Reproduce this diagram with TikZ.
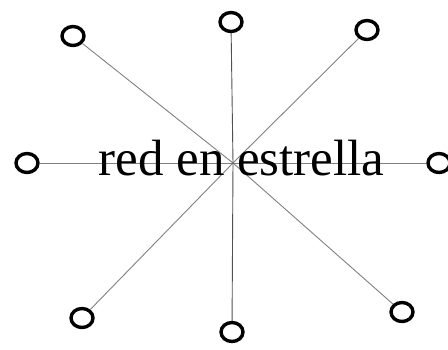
\documentclass[tikz,border=0pt]{standalone}
\usepackage{fontspec}
\setmainfont{Liberation Serif}
\usepackage{xcolor}
\usetikzlibrary{shapes.geometric}
\definecolor{linkgray}{HTML}{808080}
\definecolor{spokegray}{HTML}{505050}

\begin{document}
\begin{tikzpicture}[x=1pt,y=-1pt,
  host/.style={ellipse,draw,line width=3.4pt,minimum width=22pt,minimum height=19pt,inner sep=0pt},
  link/.style={linkgray,line width=0.9pt}]
  \useasboundingbox (0,0) rectangle (448,349);
  \coordinate (hub) at (233,163);
  % stations round the hub
  \foreach \nm/\px/\py in {nw/73/36,n/231/22,ne/367/30,w/27/163,e/439/163,sw/82/318,s/232/332,se/402/312}{
    \node[host] (\nm) at (\px,\py) {};
  }
  \foreach \nm in {nw,ne,w,e,sw,se}{\draw[link] (hub) -- (\nm);}
  \draw[spokegray,line width=0.9pt] (hub) -- (n);
  \draw[spokegray,line width=0.9pt] (hub) -- (s);
  \node[anchor=base,inner sep=0pt] (title) at (241.5,175) {\fontsize{51}{60}\selectfont red en estrella};
\end{tikzpicture}
\end{document}
